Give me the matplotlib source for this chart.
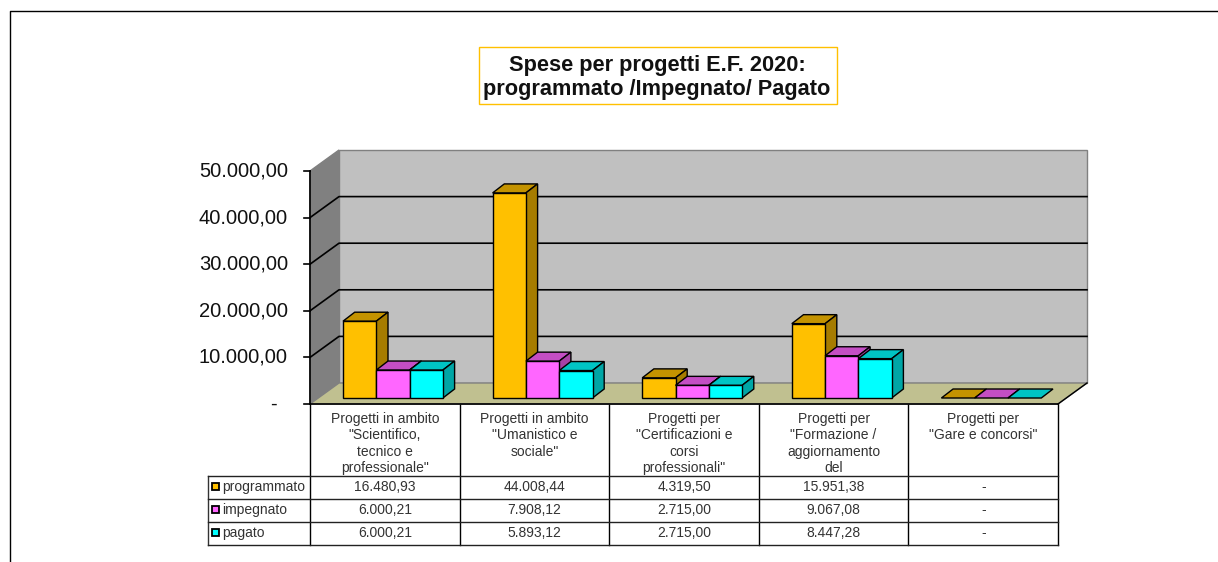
import matplotlib
matplotlib.use('Agg')
import matplotlib.pyplot as plt
from matplotlib.patches import Polygon, Rectangle

categorie = ['Progetti in ambito\n"Scientifico,\ntecnico e\nprofessionale"',
             'Progetti in ambito\n"Umanistico e\nsociale"',
             'Progetti per\n"Certificazioni e\ncorsi\nprofessionali"',
             'Progetti per\n"Formazione /\naggiornamento\ndel',
             'Progetti per\n"Gare e concorsi"']
programmato = [16480.93, 44008.44, 4319.50, 15951.38, 0]
impegnato = [6000.21, 7908.12, 2715.00, 9067.08, 0]
pagato = [6000.21, 5893.12, 2715.00, 8447.28, 0]
serie = ['programmato', 'impegnato', 'pagato']
valori_tab = [['16.480,93', '44.008,44', '4.319,50', '15.951,38', '-'],
              ['6.000,21', '7.908,12', '2.715,00', '9.067,08', '-'],
              ['6.000,21', '5.893,12', '2.715,00', '8.447,28', '-']]
yticks = [0, 10000, 20000, 30000, 40000, 50000]
yticklabels = ['-', '10.000,00', '20.000,00', '30.000,00', '40.000,00', '50.000,00']
colori = ['#FFC000', '#FF66FF', '#00FFFF']
lati = ['#A67C00', '#A642A6', '#00A6A6']
cime = ['#C49300', '#C44EC4', '#00C4C4']

W, H = 1218, 562
plt.rcParams['font.family'] = ['Liberation Sans', 'DejaVu Sans']
fig = plt.figure(figsize=(W / 100, H / 100), dpi=100)

# sfondo in pixel: cornice, titolo, tabella
bg = fig.add_axes([0, 0, 1, 1])
bg.set_xlim(0, W)
bg.set_ylim(H, 0)
bg.axis('off')
bg.plot([9.5, 9.5, W], [H, 10.5, 10.5], color='black', lw=1)
bg.add_patch(Rectangle((478.5, 46.5), 358, 57, fc='white', ec='#FFC000', lw=1))
bg.text(657, 65, 'Spese per progetti E.F. 2020:', ha='center', va='center',
        fontsize=15.7, fontweight='bold', color='#111111')
bg.text(657, 89, 'programmato /Impegnato/ Pagato', ha='center', va='center',
        fontsize=15.7, fontweight='bold', color='#111111')

# assi del grafico: 0-5 categorie, 0-50000 valori
x0, x1, y0, y50 = 310, 1058, 404, 171
ax = fig.add_axes([x0 / W, 1 - y0 / H, (x1 - x0) / W, (y0 - y50) / H])
ax.set_xlim(0, 5)
ax.set_ylim(0, 50000)
ax.axis('off')
px = 5 / (x1 - x0)
py = 50000 / (y0 - y50)
dx, dy = 29 * px, 21 * py


def poly(pts, fc, ec='#808080', lw=1, z=2):
    ax.add_patch(Polygon(pts, closed=True, fc=fc, ec=ec, lw=lw, zorder=z, clip_on=False))


top = yticks[-1]
poly([(dx, dy), (5 + dx, dy), (5 + dx, top + dy), (dx, top + dy)], '#C0C0C0')
poly([(0, 0), (dx, dy), (dx, top + dy), (0, top)], '#808080')
poly([(0, 0), (5, 0), (5 + dx, dy), (dx, dy)], '#C0C090')
ax.plot([5, 5 + dx], [0, dy], color='black', lw=1, zorder=3, clip_on=False)
for t in yticks[1:-1]:
    ax.plot([0, dx, 5 + dx], [t, t + dy, t + dy], color='black', lw=1.2, zorder=3, clip_on=False)
ax.plot([0, 0], [0, top], color='black', lw=1.2, zorder=3, clip_on=False)
for t, lab in zip(yticks, yticklabels):
    ax.plot([-6 * px, 0], [t, t], color='black', lw=1.2, zorder=3, clip_on=False)
    lx = -33 * px if t == 0 else -22 * px
    ax.text(lx, t, lab, ha='right', va='center', fontsize=14.5, color='#111111', zorder=3)
ax.plot([0, 5], [0, 0], color='black', lw=1.2, zorder=3, clip_on=False)

# barre 3D
bw = 33.3 * px
bdx, bdy = 11.7 * px, 9 * py
base = 6 * py
start = 33 * px
z = 4
for i in range(len(categorie)):
    for j, vals in enumerate([programmato, impegnato, pagato]):
        xl = i + start + j * bw
        xr = xl + bw
        yb = base
        yt = base + vals[i]
        poly([(xl, yt), (xr, yt), (xr + bdx, yt + bdy), (xl + bdx, yt + bdy)], cime[j], 'black', 1, z)
        if vals[i] > 0:
            poly([(xr, yb), (xr + bdx, yb + bdy), (xr + bdx, yt + bdy), (xr, yt)], lati[j], 'black', 1, z)
            poly([(xl, yb), (xr, yb), (xr, yt), (xl, yt)], colori[j], 'black', 1, z)
        z += 1

# tabella sotto il grafico
righe = [475.5, 498.5, 521.5, 544.5]
col = [x0 + (x1 - x0) * k / 5 for k in range(6)]
for c in col:
    bg.plot([c, c], [y0, righe[-1]], color='black', lw=1)
bg.plot([207.5, 207.5], [righe[0], righe[-1]], color='#333333', lw=1)
for r in righe:
    bg.plot([207.5, x1], [r, r], color='#222222', lw=1)
for k, cat in enumerate(categorie):
    bg.text((col[k] + col[k + 1]) / 2, 411.5, cat, ha='center', va='top', fontsize=10, linespacing=1.23, color='#333333')
for r, nome in enumerate(serie):
    ym = (righe[r] + righe[r + 1]) / 2
    bg.add_patch(Rectangle((212, ym - 4), 7, 7, fc=colori[r], ec='black', lw=1.3))
    bg.text(222.5, ym, nome, ha='left', va='center', fontsize=10, color='#333333')
    for k in range(5):
        bg.text((col[k] + col[k + 1]) / 2, ym, valori_tab[r][k], ha='center', va='center', fontsize=10, color='#333333')

fig.savefig('out.png', dpi=100)
